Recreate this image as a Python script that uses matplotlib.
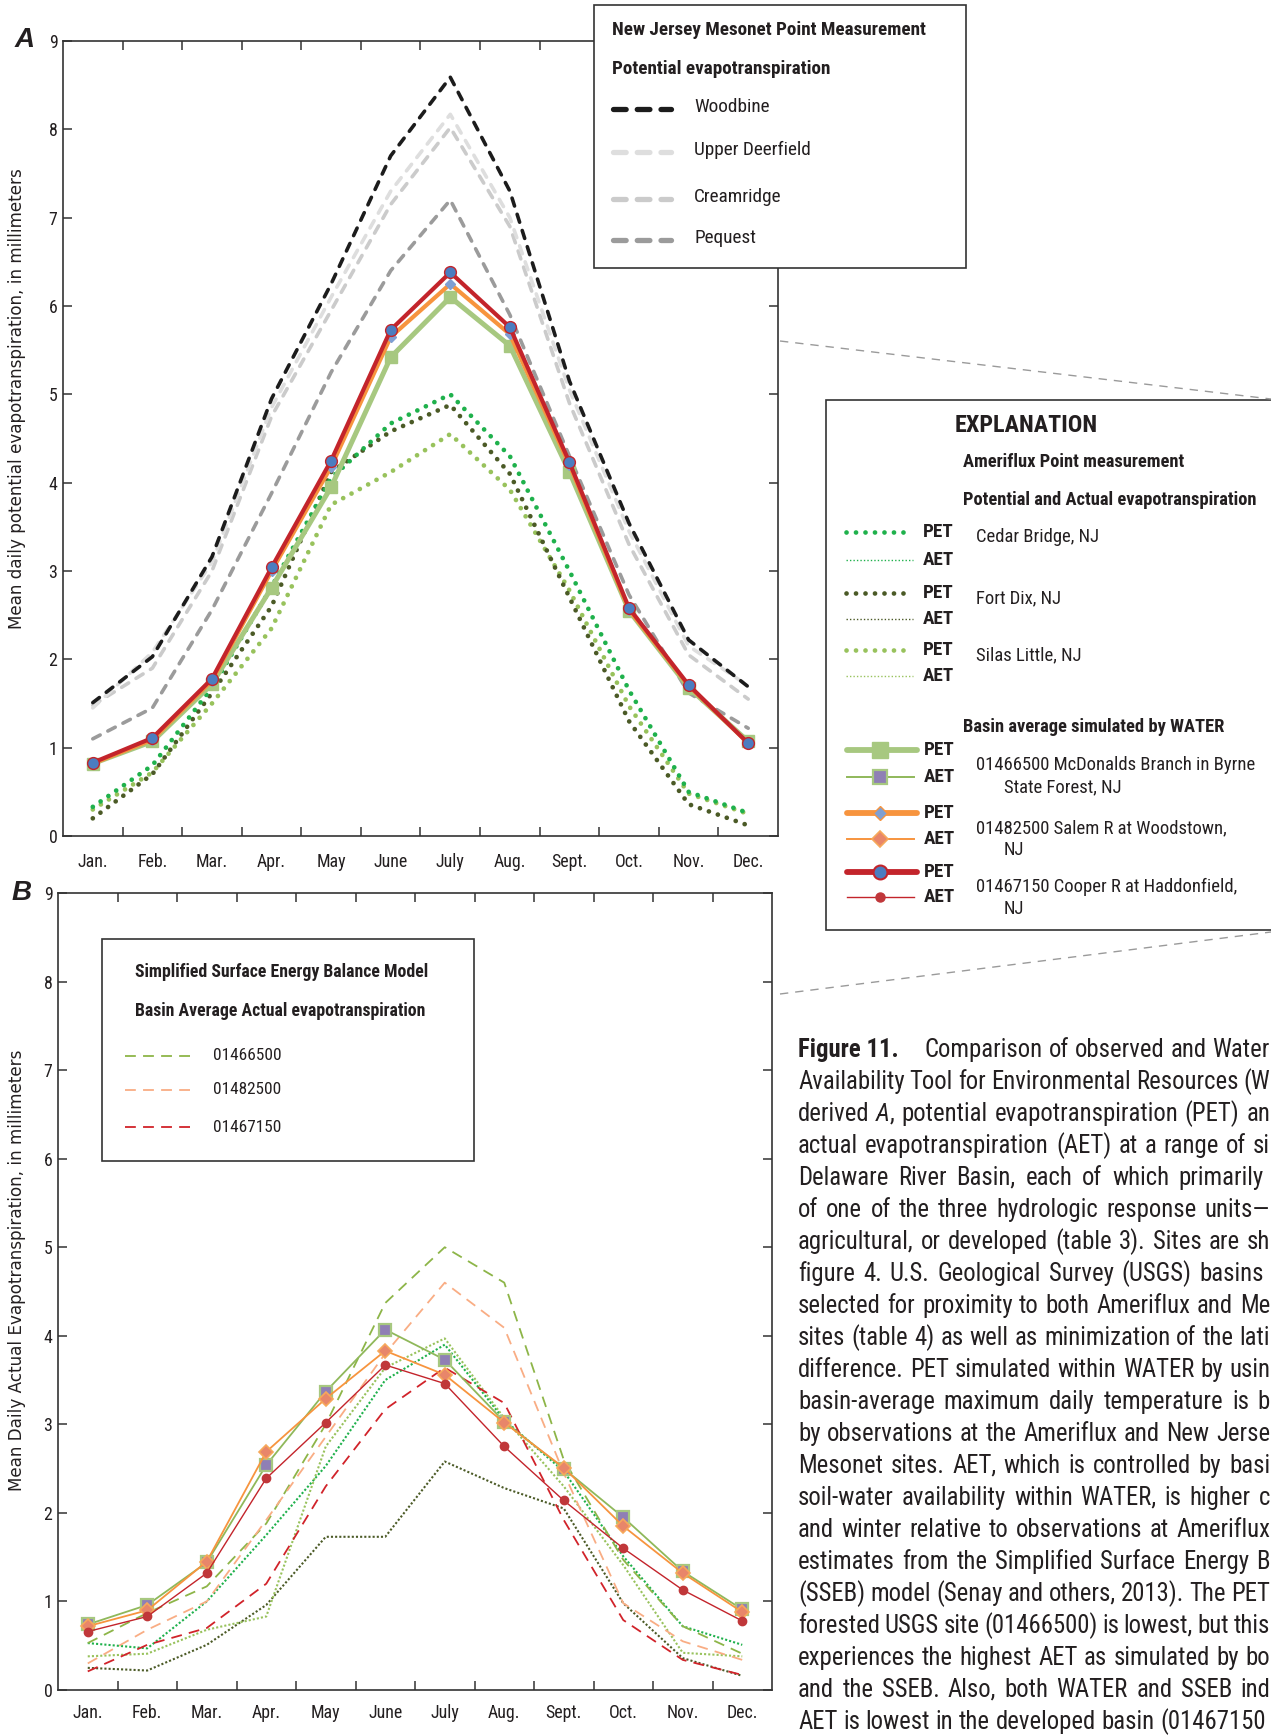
import matplotlib
matplotlib.use("Agg")
import matplotlib.pyplot as plt
from matplotlib.patches import Rectangle
from matplotlib import font_manager

# ---- data ----
months = ["Jan.", "Feb.", "Mar.", "Apr.", "May", "June", "July", "Aug.", "Sept.", "Oct.", "Nov.", "Dec."]
x = list(range(1, 13))

# A: New Jersey Mesonet PET
woodbine = [1.51, 2.03, 3.16, 4.95, 6.25, 7.70, 8.59, 7.30, 5.15, 3.54, 2.22, 1.69]
upper_deerfield = [1.45, 2.08, 3.10, 4.85, 6.10, 7.30, 8.17, 7.00, 5.05, 3.45, 2.15, 1.70]
creamridge = [1.48, 1.90, 3.00, 4.75, 5.95, 7.15, 8.02, 6.90, 4.90, 3.30, 2.05, 1.55]
pequest = [1.10, 1.45, 2.56, 3.88, 5.25, 6.40, 7.20, 5.90, 4.30, 2.73, 1.62, 1.22]

# A: Ameriflux PET
cedar_pet = [0.33, 0.80, 1.68, 2.82, 4.05, 4.67, 5.00, 4.30, 3.00, 1.65, 0.50, 0.26]
fortdix_pet = [0.20, 0.70, 1.62, 2.60, 4.12, 4.58, 4.88, 4.10, 2.70, 1.30, 0.36, 0.12]
silas_pet = [0.30, 0.72, 1.50, 2.35, 3.75, 4.12, 4.55, 3.92, 2.78, 1.47, 0.48, 0.25]

# A: WATER basin-average PET
mcd_pet = [0.82, 1.07, 1.72, 2.81, 3.95, 5.42, 6.10, 5.55, 4.12, 2.55, 1.68, 1.07]
salem_pet = [0.82, 1.09, 1.76, 3.00, 4.18, 5.65, 6.25, 5.68, 4.20, 2.56, 1.70, 1.05]
cooper_pet = [0.83, 1.11, 1.78, 3.04, 4.25, 5.73, 6.38, 5.76, 4.23, 2.58, 1.71, 1.05]

# B: WATER basin-average AET
mcd_aet = [0.74, 0.96, 1.44, 2.54, 3.37, 4.07, 3.73, 3.03, 2.50, 1.95, 1.34, 0.91]
salem_aet = [0.72, 0.90, 1.45, 2.69, 3.29, 3.83, 3.56, 3.02, 2.51, 1.85, 1.32, 0.88]
cooper_aet = [0.66, 0.83, 1.32, 2.39, 3.02, 3.67, 3.46, 2.75, 2.14, 1.60, 1.13, 0.78]

# B: SSEB basin-average AET
sseb_01466500 = [0.53, 0.87, 1.17, 1.88, 3.00, 4.37, 5.00, 4.60, 2.60, 1.47, 0.72, 0.41]
sseb_01482500 = [0.30, 0.68, 1.00, 1.92, 2.86, 3.80, 4.60, 4.09, 2.45, 0.98, 0.55, 0.34]
sseb_01467150 = [0.21, 0.51, 0.70, 1.20, 2.30, 3.17, 3.64, 3.24, 1.92, 0.79, 0.34, 0.17]

# B: Ameriflux AET
cedar_aet = [0.53, 0.47, 1.00, 1.75, 2.53, 3.50, 3.90, 3.05, 2.47, 1.51, 0.72, 0.51]
fortdix_aet = [0.25, 0.22, 0.51, 0.96, 1.73, 1.73, 2.58, 2.28, 2.05, 0.98, 0.36, 0.16]
silas_aet = [0.38, 0.41, 0.68, 0.83, 2.75, 3.64, 3.97, 3.07, 2.30, 1.41, 0.42, 0.38]

# caption lines as far as they are visible (the page is cut at the right edge)
caption_first = "Comparison of observed and Water"
caption = [
    "Availability Tool for Environmental Resources (W",
    "derived A, potential evapotranspiration (PET) an",
    "actual evapotranspiration (AET) at a range of si",
    "Delaware River Basin, each of which primarily",
    "of one of the three hydrologic response units\u2014",
    "agricultural, or developed (table 3). Sites are sh",
    "figure 4. U.S. Geological Survey (USGS) basins",
    "selected for proximity to both Ameriflux and Me",
    "sites (table 4) as well as minimization of the lati",
    "difference. PET simulated within WATER by usin",
    "basin-average maximum daily temperature is b",
    "by observations at the Ameriflux and New Jerse",
    "Mesonet sites. AET, which is controlled by basi",
    "soil-water availability within WATER, is higher c",
    "and winter relative to observations at Ameriflux",
    "estimates from the Simplified Surface Energy B",
    "(SSEB) model (Senay and others, 2013). The PET",
    "forested USGS site (01466500) is lowest, but this",
    "experiences the highest AET as simulated by bo",
    "and the SSEB. Also, both WATER and SSEB ind",
    "AET is lowest in the developed basin (01467150",
]
caption_right = [1270, 1270, 1270, 1264, 1270, 1270, 1264, 1270, 1270, 1270,
                 1270, 1270, 1270, 1270, 1270, 1270, 1270, 1270, 1270, 1270, 1266]

# ---- colours ----
c_cedar = "#1fb14c"
c_fortdix = "#4b5a26"
c_silas = "#98c25c"
c_mcd = "#a7c880"
c_salem = "#f7943e"
c_cooper = "#c3242b"
txt = "#231f20"


# pick the narrowest sans available (the original uses Univers Condensed)
def pick_condensed():
    entries = font_manager.fontManager.ttflist
    names = {f.name for f in entries}
    for n in ["Liberation Sans Narrow", "Roboto Condensed", "Noto Sans Condensed", "Open Sans Condensed",
              "DejaVu Sans Condensed", "Arial Narrow"]:
        if n in names:
            return dict(family=n)
    for n in ["Roboto", "Noto Sans", "Open Sans", "DejaVu Sans"]:
        for st in ["condensed", "semi-condensed"]:
            if any(f.name == n and f.stretch == st for f in entries):
                return dict(family=n, stretch=st)
    return dict(family="Liberation Sans")


COND = pick_condensed()
WIDE = dict(family="DejaVu Sans")

W, H = 1271, 1736
fig = plt.figure(figsize=(W / 100, H / 100), dpi=100)
ov = fig.add_axes([0, 0, 1, 1], zorder=10)
ov.set_xlim(0, W)
ov.set_ylim(H, 0)
ov.axis("off")
ov.patch.set_alpha(0)
renderer = fig.canvas.get_renderer()


def width_of(s, **kw):
    t = ov.text(0, 0, s, **kw)
    w = t.get_window_extent(renderer).width
    t.remove()
    return w


# sizes below are for a narrow font; rescale to what is installed
K = 117.0 / width_of("Upper Deerfield", fontsize=14.5, **COND)
KB = 315.0 / width_of("New Jersey Mesonet Point Measurement", fontsize=13.5, weight="bold", **COND)
KC = 468.0 / width_of("AET is lowest in the developed basin (01467150", fontsize=17, **COND)
KW = 462.0 / width_of("Mean daily potential evapotranspiration, in millimeters", fontsize=11, **WIDE)


def t_reg(xx, yy, s, size, **kw):
    return ov.text(xx, yy, s, fontsize=size * K, va="center", color=txt, **COND, **kw)


def t_bold(xx, yy, s, size, **kw):
    return ov.text(xx, yy, s, fontsize=size * KB, weight="bold", va="center", color=txt, **COND, **kw)


def px_axes(left, top, right, bottom):
    return fig.add_axes([left / W, 1 - bottom / H, (right - left) / W, (bottom - top) / H])


def style_axes(ax, pad):
    ax.set_xlim(0.5, 12.5)
    ax.set_ylim(0, 9)
    ax.set_xticks(x)
    ax.set_xticklabels(months, fontsize=13.5 * K, color=txt, **COND)
    ax.set_xticks([m + 0.5 for m in range(1, 12)], minor=True)
    ax.set_yticks(range(0, 10))
    ax.set_yticklabels([str(v) for v in range(0, 10)], fontsize=13.5 * K, color=txt, **COND)
    ax.tick_params(axis="x", which="major", length=0, pad=pad)
    ax.tick_params(axis="x", which="minor", direction="in", length=6.5, width=1.1,
                   top=True, bottom=True, color="#333333")
    ax.tick_params(axis="y", direction="in", length=6.5, width=1.1, left=True, right=True,
                   pad=4, color="#333333")
    for s in ax.spines.values():
        s.set_color("#333333")
        s.set_linewidth(1.2)


mesonet_dash = (0, (2.3, 2.4))
dot_style = (0, (0.01, 2.0))

# ---- panel A ----
axA = px_axes(63, 41, 778, 836)
style_axes(axA, 12)
for vals, col in [(creamridge, "#cbcbcb"), (upper_deerfield, "#dedede"),
                  (pequest, "#9b9b9b"), (woodbine, "#1c1c1c")]:
    axA.plot(x, vals, color=col, lw=2.6, linestyle=mesonet_dash, dash_capstyle="round", zorder=2)
for vals, col in [(silas_pet, c_silas), (fortdix_pet, c_fortdix), (cedar_pet, c_cedar)]:
    axA.plot(x, vals, color=col, lw=3.4, linestyle=dot_style, dash_capstyle="round", zorder=3)
axA.plot(x, mcd_pet, color=c_mcd, lw=3.6, marker="s", ms=9, mfc=c_mcd, mec=c_mcd, zorder=4)
axA.plot(x, salem_pet, color=c_salem, lw=3.0, marker="D", ms=5.5, mfc="#7f9fd2", mec="#7f9fd2", zorder=5)
axA.plot(x, cooper_pet, color=c_cooper, lw=3.0, marker="o", ms=8.5, mfc="#4b7dc0", mec=c_cooper,
         mew=1.0, zorder=6)

# ---- panel B ----
axB = px_axes(58, 893, 772, 1690)
style_axes(axB, 10)
for vals, col in [(cedar_aet, c_cedar), (fortdix_aet, c_fortdix), (silas_aet, c_silas)]:
    axB.plot(x, vals, color=col, lw=1.5, linestyle=(0, (1, 1)), zorder=2)
for vals, col in [(sseb_01466500, "#8db548"), (sseb_01482500, "#f9ad84"), (sseb_01467150, "#d1232a")]:
    axB.plot(x, vals, color=col, lw=1.3, linestyle=(0, (6, 4)), zorder=3)
axB.plot(x, mcd_aet, color="#8fb85a", lw=1.3, marker="s", ms=9, mfc="#8f7fb5", mec=c_mcd, mew=1.6, zorder=4)
axB.plot(x, salem_aet, color=c_salem, lw=1.3, marker="D", ms=7.5, mfc="#e8866a", mec="#f7a85a", mew=1.2, zorder=5)
axB.plot(x, cooper_aet, color=c_cooper, lw=1.0, marker="o", ms=6, mfc="#c0373a", mec="#c0373a", zorder=6)

# ---- overlay: panel letters, axis titles, legends, caption ----
ov.text(25, 40, "A", family="Liberation Sans", weight="bold", style="italic", fontsize=20,
        ha="center", va="center", color=txt)
ov.text(22, 893, "B", family="Liberation Sans", weight="bold", style="italic", fontsize=20,
        ha="center", va="center", color=txt)
ov.text(17, 399, "Mean daily potential evapotranspiration, in millimeters", fontsize=11 * KW,
        rotation=90, ha="center", va="center", color=txt, **WIDE)
ov.text(17, 1270, "Mean Daily Actual Evapotranspiration, in millimeters", fontsize=11 * KW,
        rotation=90, ha="center", va="center", color=txt, **WIDE)

# connector lines from panel A to explanation
ov.plot([780, 1271], [341, 399], color="#9a9a9a", lw=1.0, linestyle=(0, (6, 5)))
ov.plot([780, 1271], [994, 932], color="#9a9a9a", lw=1.0, linestyle=(0, (6, 5)))

# Mesonet legend box
ov.add_patch(Rectangle((594, 5), 966 - 594, 268 - 5, facecolor="white", edgecolor="#333333", lw=1.2))
t_bold(612, 30, "New Jersey Mesonet Point Measurement", 13.5)
t_bold(612, 69, "Potential evapotranspiration", 13.5)
for yy, col, name in [(109, "#1c1c1c", "Woodbine"), (152, "#dedede", "Upper Deerfield"),
                      (199, "#cbcbcb", "Creamridge"), (240, "#9b9b9b", "Pequest")]:
    ov.plot([613, 671], [yy, yy], color=col, lw=3.8, linestyle=(0, (2.4, 2.1)), dash_capstyle="round")
    t_reg(694, yy - 2, name, 14.5)

# Explanation box
ov.add_patch(Rectangle((826, 400), 1300 - 826, 930 - 400, facecolor="white", edgecolor="#333333", lw=1.2))
t_bold(955, 425, "EXPLANATION", 17)
t_bold(963, 462, "Ameriflux Point measurement", 13)
t_bold(963, 500, "Potential and Actual evapotranspiration", 13)
for ypet, yaet, col, name in [(532, 560, c_cedar, "Cedar Bridge, NJ"),
                              (593, 619, c_fortdix, "Fort Dix, NJ"),
                              (650, 676, c_silas, "Silas Little, NJ")]:
    ov.plot([846, 910], [ypet, ypet], color=col, lw=3.4, linestyle=dot_style, dash_capstyle="round")
    ov.plot([846, 913], [yaet, yaet], color=col, lw=1.0, linestyle=(0, (1, 1.5)))
    t_bold(923, ypet, "PET", 13.5)
    t_bold(923, yaet, "AET", 13.5)
    t_reg(976, ypet + 5, name, 14)
t_bold(963, 727, "Basin average simulated by WATER", 13)
water_rows = [
    (750, 777, "01466500 McDonalds Branch in Byrne", "State Forest, NJ",
     dict(color=c_mcd, lw=4.2, marker="s", ms=11, mfc=c_mcd, mec=c_mcd),
     dict(color="#8fb85a", lw=1.4, marker="s", ms=10, mfc="#8f7fb5", mec=c_mcd, mew=1.6)),
    (813, 839, "01482500 Salem R at Woodstown,", "NJ",
     dict(color=c_salem, lw=4.2, marker="D", ms=7.5, mfc="#7f9fd2", mec=c_salem, mew=1.0),
     dict(color=c_salem, lw=1.4, marker="D", ms=8, mfc="#e8866a", mec="#f7a85a", mew=1.2)),
    (872, 897, "01467150 Cooper R at Haddonfield,", "NJ",
     dict(color=c_cooper, lw=4.2, marker="o", ms=10, mfc="#4b7dc0", mec=c_cooper, mew=1.5),
     dict(color=c_cooper, lw=1.0, marker="o", ms=6.5, mfc="#c0373a", mec="#c0373a")),
]
for ypet, yaet, l1, l2, kp, ka in water_rows:
    ov.plot([847, 917], [ypet, ypet], color=kp["color"], lw=kp["lw"], solid_capstyle="round")
    ov.plot([880], [ypet], linestyle="none", **{k: v for k, v in kp.items() if k not in ("color", "lw")})
    ov.plot([847, 914], [yaet, yaet], color=ka["color"], lw=ka["lw"])
    ov.plot([880], [yaet], linestyle="none", **{k: v for k, v in ka.items() if k not in ("color", "lw")})
    t_bold(924, ypet, "PET", 13.5)
    t_bold(924, yaet, "AET", 13.5)
    t_reg(976, (ypet + yaet) / 2 + 2, l1, 14)
    t_reg(1004, (ypet + yaet) / 2 + 24, l2, 14)

# SSEB legend box in panel B
ov.add_patch(Rectangle((102, 939), 474 - 102, 1161 - 939, facecolor="white", edgecolor="#333333", lw=1.2))
t_bold(135, 972, "Simplified Surface Energy Balance Model", 12.5)
t_bold(135, 1011, "Basin Average Actual evapotranspiration", 12.5)
for yy, col, name in [(1056, "#8db548", "01466500"), (1090, "#f9ad84", "01482500"),
                      (1127, "#d1232a", "01467150")]:
    ov.plot([125, 193], [yy, yy], color=col, lw=1.3, linestyle=(0, (6, 4)))
    t_reg(213, yy, name, 13)

# caption, justified
cap_x, cap_y0, cap_dy = 798, 1050, 32
cs = 17 * KC


def justify(x0, x1, yy, line):
    runs = []
    for word in line.split(" "):
        if word == "A,":
            runs.append([("A", "italic"), (",", "normal")])
        else:
            runs.append([(word, "normal")])
    objs, widths = [], []
    for parts in runs:
        row, w = [], 0.0
        for s, st in parts:
            t = ov.text(0, yy, s, fontsize=cs, style=st, va="center", color=txt, **COND)
            tw = t.get_window_extent(renderer).width
            row.append((t, w))
            w += tw
        objs.append(row)
        widths.append(w)
    gap = (x1 - x0 - sum(widths)) / max(len(widths) - 1, 1)
    pos = x0
    for row, w in zip(objs, widths):
        for t, off in row:
            t.set_x(pos + off)
        pos += w + gap


head = ov.text(cap_x, cap_y0, "Figure 11.", fontsize=cs, weight="bold", va="center", color=txt, **COND)
head_end = head.get_window_extent(renderer).x1
justify(head_end + 26, 1270, cap_y0, caption_first)
for i, line in enumerate(caption):
    justify(cap_x, caption_right[i], cap_y0 + (i + 1) * cap_dy, line)

fig.savefig("out.png", dpi=100)
